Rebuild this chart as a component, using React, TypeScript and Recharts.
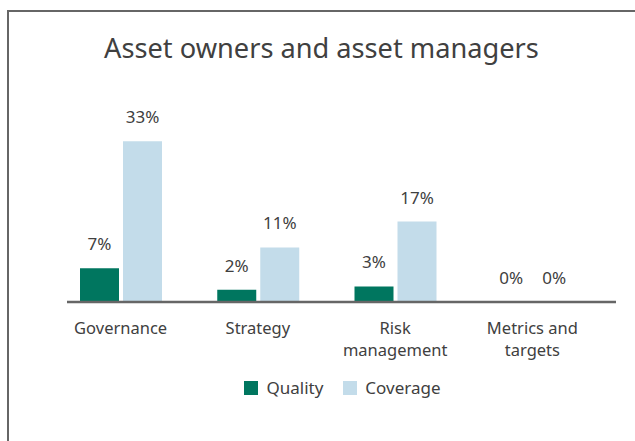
import { BarChart, Bar, XAxis, YAxis, LabelList, Legend, Rectangle } from "recharts"

const categories = ["Governance", "Strategy", "Risk\nmanagement", "Metrics and\ntargets"]
// bar heights; labels are the printed (rounded) values
const quality = [6.9, 2.5, 3.2, 0]
const coverage = [33, 11.2, 16.5, 0]
const qualityLabels = ["7%", "2%", "3%", "0%"]
const coverageLabels = ["33%", "11%", "17%", "0%"]
const seriesNames = ["Quality", "Coverage"]
const COLORS = ["#00765f", "#c3dcea"]

const data = categories.map((c, i) => ({
  name: c,
  quality: quality[i],
  coverage: coverage[i],
  qualityLabel: qualityLabels[i],
  coverageLabel: coverageLabels[i],
}))

const FONT = "'Noto Sans', sans-serif"
const TEXT = "#404040"

function Tick({ x, y, payload }: any) {
  const lines = String(payload.value).split("\n")
  return (
    <text x={x} y={y} textAnchor="middle" fill={TEXT} fontSize={16.5} fontFamily={FONT}>
      {lines.map((l, i) => (
        <tspan key={i} x={x} dy={i === 0 ? 32 : 22}>{l}</tspan>
      ))}
    </text>
  )
}

function BarLabel({ x, y, width, height, value }: any) {
  const top = Number(y) + Math.min(0, Number(height) || 0)
  return (
    <text x={Number(x) + Number(width) / 2} y={top - 18} textAnchor="middle" fill={TEXT} fontSize={17} fontFamily={FONT}>
      {value}
    </text>
  )
}

// zero bars keep a hairline rect so their labels get placed, but draw nothing
function BarShape(props: any) {
  if (!props.value || (Array.isArray(props.value) && props.value[1] - props.value[0] === 0)) return null
  return <Rectangle {...props} />
}

function LegendContent() {
  return (
    <div style={{ display: "flex", justifyContent: "center", alignItems: "center", fontFamily: FONT, fontSize: 17, color: TEXT, paddingLeft: 2 }}>
      {seriesNames.map((n, i) => (
        <div key={n} style={{ display: "flex", alignItems: "center", marginRight: i === 0 ? 20 : 0 }}>
          <span style={{ width: 14, height: 14, background: COLORS[i], display: "inline-block", marginRight: 8 }} />
          <span>{n}</span>
        </div>
      ))}
    </div>
  )
}

export default function App() {
  return (
    <div style={{ position: "absolute", left: 0, top: 0, width: 635, height: 441, overflow: "hidden", background: "#fff" }}>
      <div style={{ position: "absolute", left: 7, top: 10, width: 700, height: 500, borderTop: "2px solid #666", borderLeft: "2px solid #666" }} />
      <div style={{ position: "absolute", left: 0, top: 29, width: 643, textAlign: "center", fontFamily: FONT, fontSize: 27.2, color: TEXT }}>
        Asset owners and asset managers
      </div>
      <div style={{ position: "absolute", left: 0, top: 0 }}>
        <BarChart width={635} height={441} data={data} margin={{ top: 107, right: 19, left: 67, bottom: 43 }} barGap={4} barSize={39}>
          <XAxis dataKey="name" tick={<Tick />} tickLine={false} tickSize={0} tickMargin={0} interval={0} height={74}
            axisLine={{ stroke: "#666", strokeWidth: 2.5 }} padding={{ left: -15, right: 15 }} />
          <YAxis hide domain={[0, 40]} />
          <Legend verticalAlign="bottom" height={22} content={<LegendContent />} />
          <Bar dataKey="quality" name={seriesNames[0]} fill={COLORS[0]} minPointSize={0.01} shape={<BarShape />} isAnimationActive={false}>
            <LabelList dataKey="qualityLabel" content={<BarLabel />} />
          </Bar>
          <Bar dataKey="coverage" name={seriesNames[1]} fill={COLORS[1]} minPointSize={0.01} shape={<BarShape />} isAnimationActive={false}>
            <LabelList dataKey="coverageLabel" content={<BarLabel />} />
          </Bar>
        </BarChart>
      </div>
    </div>
  )
}
